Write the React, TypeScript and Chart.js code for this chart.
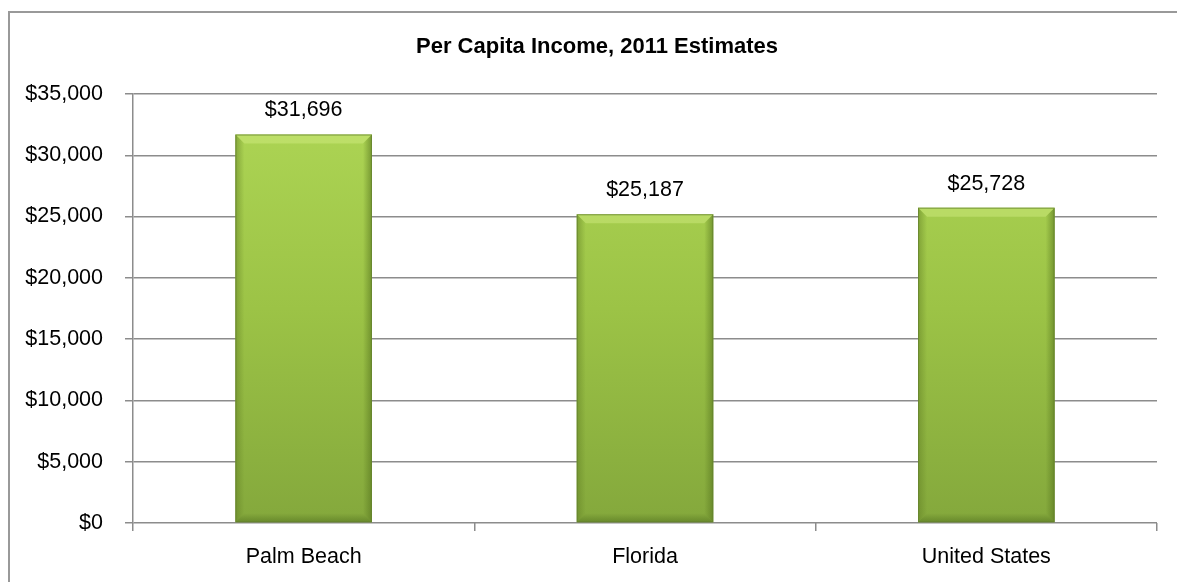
import React, { useEffect, useRef } from "react";
import { Chart, registerables } from "chart.js";

Chart.register(...registerables);

const TITLE = "Per Capita Income, 2011 Estimates";
const categories = ["Palm Beach", "Florida", "United States"];
const incomeValues = [31696, 25187, 25728];
const yMin = 0;
const yMax = 35000;
const yStep = 5000;

const FONT = "'Liberation Sans', Arial, sans-serif";

const fmt = (v: number) => "$" + v.toLocaleString("en-US");

const titlePlugin = {
  id: "customTitle",
  afterDraw(chart: any) {
    const ctx = chart.ctx;
    ctx.save();
    ctx.font = `bold 22px ${FONT}`;
    ctx.fillStyle = "#000";
    ctx.textAlign = "center";
    ctx.textBaseline = "middle";
    ctx.fillText(TITLE, 597, 47);
    ctx.restore();
  },
};

const bevelPlugin = {
  id: "bevel",
  afterDatasetsDraw(chart: any) {
    const ctx = chart.ctx;
    const meta = chart.getDatasetMeta(0);
    meta.data.forEach((bar: any, i: number) => {
      const { x, y, base, width } = bar.getProps(["x", "y", "base", "width"], true);
      const l = x - width / 2;
      const r = x + width / 2;
      const t = y;
      const b = base;
      const bv = 9;
      ctx.save();
      // top bevel (light)
      ctx.beginPath();
      ctx.moveTo(l, t);
      ctx.lineTo(r, t);
      ctx.lineTo(r - bv, t + bv);
      ctx.lineTo(l + bv, t + bv);
      ctx.closePath();
      ctx.fillStyle = "rgba(210,238,130,0.45)";
      ctx.fill();
      // left bevel
      let g = ctx.createLinearGradient(l, 0, l + bv, 0);
      g.addColorStop(0, "rgba(95,125,35,0.5)");
      g.addColorStop(1, "rgba(95,125,35,0.0)");
      ctx.beginPath();
      ctx.moveTo(l, t);
      ctx.lineTo(l + bv, t + bv);
      ctx.lineTo(l + bv, b - bv);
      ctx.lineTo(l, b);
      ctx.closePath();
      ctx.fillStyle = g;
      ctx.fill();
      // right bevel
      g = ctx.createLinearGradient(r, 0, r - bv, 0);
      g.addColorStop(0, "rgba(85,115,30,0.6)");
      g.addColorStop(1, "rgba(85,115,30,0.0)");
      ctx.beginPath();
      ctx.moveTo(r, t);
      ctx.lineTo(r - bv, t + bv);
      ctx.lineTo(r - bv, b - bv);
      ctx.lineTo(r, b);
      ctx.closePath();
      ctx.fillStyle = g;
      ctx.fill();
      // bottom bevel
      g = ctx.createLinearGradient(0, b, 0, b - bv);
      g.addColorStop(0, "rgba(80,110,30,0.55)");
      g.addColorStop(1, "rgba(80,110,30,0.0)");
      ctx.beginPath();
      ctx.moveTo(l, b);
      ctx.lineTo(r, b);
      ctx.lineTo(r - bv, b - bv);
      ctx.lineTo(l + bv, b - bv);
      ctx.closePath();
      ctx.fillStyle = g;
      ctx.fill();
      // outline
      ctx.strokeStyle = "rgba(100,130,45,0.8)";
      ctx.lineWidth = 1;
      ctx.strokeRect(l + 0.5, t + 0.5, width - 1, b - t - 1);
      // data label
      ctx.font = `21.5px ${FONT}`;
      ctx.fillStyle = "#000";
      ctx.textAlign = "center";
      ctx.textBaseline = "alphabetic";
      ctx.fillText(fmt(incomeValues[i]), x, t - 18);
      ctx.restore();
    });
  },
};

export default function App() {
  const ref = useRef<HTMLCanvasElement>(null);
  useEffect(() => {
    if (!ref.current) return;
    const chart = new Chart(ref.current, {
      type: "bar",
      data: {
        labels: categories,
        datasets: [
          {
            data: incomeValues,
            backgroundColor: (c: any) => {
              const area = c.chart.chartArea;
              if (!area) return "#9bc043";
              const g = c.chart.ctx.createLinearGradient(0, area.top, 0, area.bottom);
              g.addColorStop(0, "#afd756");
              g.addColorStop(0.5, "#9cc346");
              g.addColorStop(1, "#84a83c");
              return g;
            },
            borderWidth: 0,
            barPercentage: 0.4,
            categoryPercentage: 1,
          },
        ],
      },
      options: {
        responsive: false,
        animation: false,
        layout: { padding: { top: 94, right: 20, left: 0, bottom: 0 } },
        plugins: {
          legend: { display: false },
          title: { display: false },
          tooltip: { enabled: false },
        },
        scales: {
          x: {
            offset: true,
            grid: {
              offset: true,
              drawOnChartArea: false,
              drawTicks: true,
              tickLength: 8,
              color: "#8c8c8c",
              lineWidth: 1.5,
            },
            border: { display: false },
            ticks: {
              font: { family: FONT, size: 21.5 },
              color: "#000",
              padding: 13,
            },
            afterFit: (s: any) => {
              s.height = 59;
            },
          },
          y: {
            min: yMin,
            max: yMax,
            grid: {
              color: "#8c8c8c",
              lineWidth: 1.5,
              tickLength: 8,
            },
            border: { display: true, color: "#8c8c8c", width: 1.5 },
            ticks: {
              stepSize: yStep,
              font: { family: FONT, size: 21.5 },
              color: "#000",
              padding: 22,
              callback: (v: any) => fmt(Number(v)),
            },
            afterFit: (s: any) => {
              s.width = 133;
            },
          },
        },
      },
      plugins: [titlePlugin, bevelPlugin],
    });
    return () => chart.destroy();
  }, []);

  return (
    <div
      style={{
        position: "fixed",
        left: 0,
        top: 0,
        width: 1177,
        height: 582,
        background: "#fff",
        overflow: "hidden",
      }}
    >
      <div
        style={{
          position: "absolute",
          left: 8,
          top: 11,
          width: 1300,
          height: 700,
          borderLeft: "2px solid #999",
          borderTop: "2px solid #999",
        }}
      />
      <canvas
        ref={ref}
        width={1177}
        height={582}
        style={{ position: "absolute", left: 0, top: 0 }}
      />
    </div>
  );
}
